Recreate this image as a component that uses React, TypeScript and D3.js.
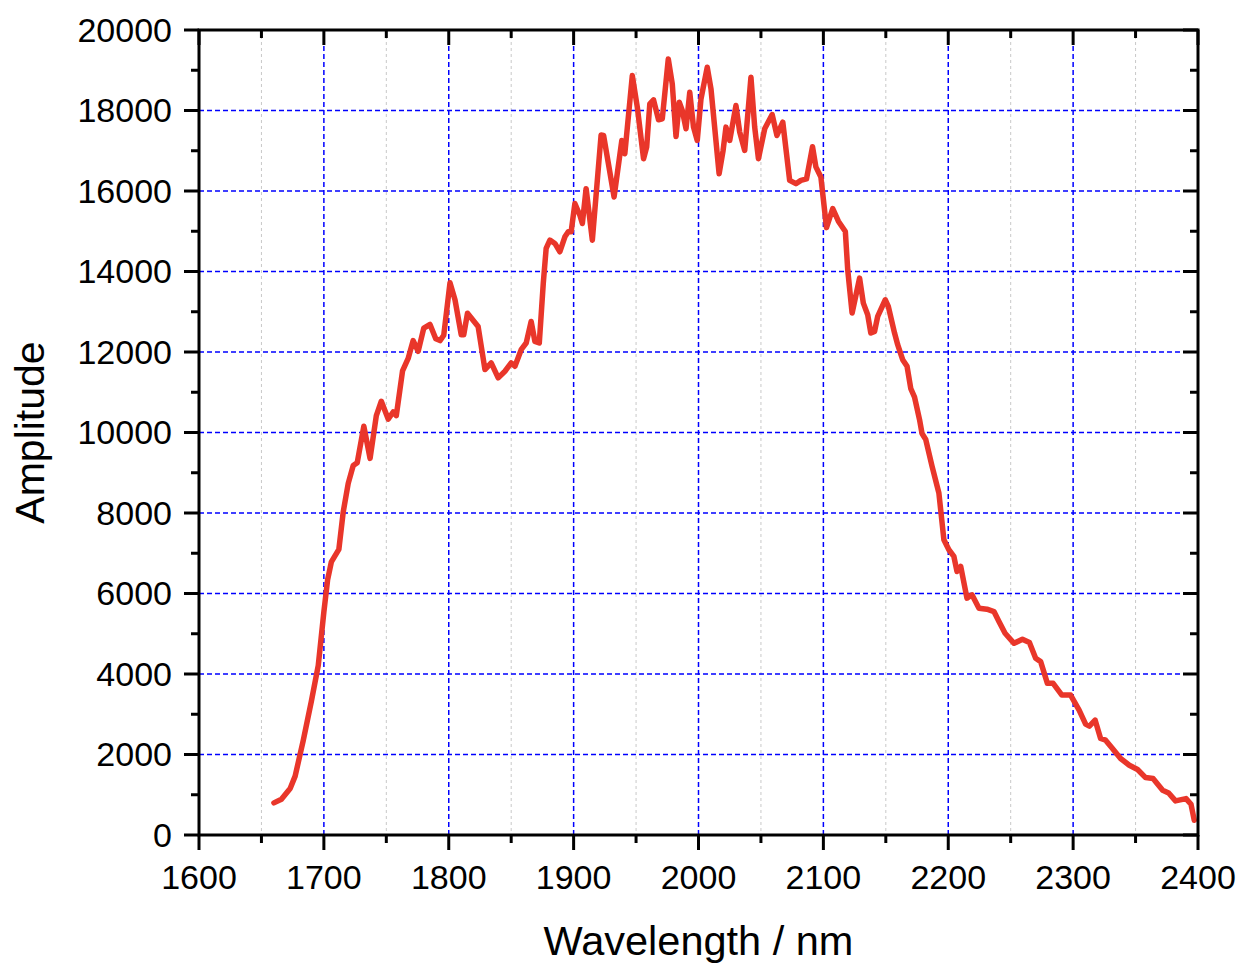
import React from "react";
import * as d3 from "d3";

const wavelengths = [
  1660, 1666, 1673, 1677, 1683.5, 1690, 1695.5, 1700, 1703, 1706, 1712, 1715.5, 1719.5, 1723.5, 1726.7,
  1732, 1737, 1742, 1746, 1751.5, 1755.5, 1758, 1763, 1767.5, 1771.5, 1775.5, 1780, 1785, 1789.6, 1793,
  1796, 1801, 1805, 1810, 1812, 1815, 1823.5, 1829, 1834, 1839.6, 1845, 1850, 1853, 1858, 1862, 1866,
  1869, 1872.5, 1875.7, 1878, 1881, 1885, 1889, 1893, 1895.7, 1898, 1901, 1905, 1907, 1910, 1915, 1922,
  1924, 1932.4, 1938.6, 1941, 1947, 1951, 1956, 1958.5, 1961, 1964, 1968, 1971, 1975.8, 1979, 1982,
  1984.6, 1987, 1990, 1993, 1996, 1999, 2002, 2007, 2010, 2016.5, 2019.7, 2022, 2025, 2030, 2033, 2037,
  2042, 2045, 2048, 2053, 2059, 2062.8, 2067.5, 2073, 2078, 2082, 2086.5, 2091.3, 2094, 2098, 2102.5,
  2107.5, 2112, 2117.6, 2119.5, 2123, 2129, 2132, 2135.5, 2138, 2141, 2143.5, 2149.6, 2152, 2157, 2159.5,
  2163.5, 2167, 2170, 2173, 2177, 2179, 2182, 2187, 2192.5, 2196.5, 2200.5, 2204.5, 2207, 2210, 2215,
  2219, 2224.6, 2231, 2236.6, 2240.6, 2245.5, 2252.7, 2259.4, 2265, 2270, 2274, 2279.4, 2284, 2291, 2298,
  2304.8, 2310, 2313, 2317.6, 2322, 2326, 2331.5, 2338, 2345, 2351.6, 2358, 2364, 2371.7, 2376.5, 2382,
  2390.4, 2394.4, 2397,
];

const amplitudes = [
  798, 887, 1153, 1463, 2350, 3326, 4213, 5543, 6341, 6785, 7095, 8027, 8736, 9180, 9250,
  10155, 9357, 10421, 10776, 10333, 10510, 10420, 11530, 11840, 12284, 12018, 12594, 12683, 12328, 12284,
  12417, 13720, 13300, 12429, 12429, 12965, 12635, 11563, 11728, 11357, 11522, 11728, 11645, 12058, 12223, 12759,
  12264, 12223, 13707, 14573, 14779, 14697, 14491, 14862, 14986, 14986, 15687, 15398, 15192, 16058, 14779, 17390,
  17380, 15851, 17256, 16926, 18868, 18083, 16802, 17091, 18165, 18264, 17769, 17793, 19281, 18661, 17355,
  18207, 18000, 17545, 18455, 17587, 17256, 18289, 19074, 18537, 16430, 17008, 17587, 17256, 18124, 17463, 17008,
  18826, 17587, 16802, 17545, 17900, 17380, 17710, 16264, 16182, 16264, 16300, 17100, 16600, 16350, 15090,
  15565, 15250, 14992, 14041, 12967, 13835, 13215, 12926, 12471, 12512, 12884, 13298, 13132, 12471, 12182,
  11810, 11645, 11090, 10880, 10322, 9975, 9826, 9162, 8498, 7336, 7087, 6921, 6548, 6672, 5884,
  5967, 5635, 5610, 5552, 5303, 5012, 4763, 4863, 4780, 4390, 4307, 3768, 3768, 3477, 3477,
  3104, 2755, 2705, 2855, 2398, 2357, 2149, 1900, 1734, 1627, 1427, 1402, 1112, 1045, 847,
  905, 763, 365,
];

const xMajorTicks = [1600, 1700, 1800, 1900, 2000, 2100, 2200, 2300, 2400];
const xMinorTicks = [1650, 1750, 1850, 1950, 2050, 2150, 2250, 2350];
const yMajorTicks = [0, 2000, 4000, 6000, 8000, 10000, 12000, 14000, 16000, 18000, 20000];
const yMinorTicks = [1000, 3000, 5000, 7000, 9000, 11000, 13000, 15000, 17000, 19000];

const xTitle = "Wavelength / nm";
const yTitle = "Amplitude";

export default function App() {
  const W = 1243;
  const H = 965;
  const left = 199;
  const right = 1198;
  const top = 30;
  const bottom = 835;

  const x = d3.scaleLinear().domain([1600, 2400]).range([left, right]);
  const y = d3.scaleLinear().domain([0, 20000]).range([bottom, top]);

  const pts = wavelengths.map((w, i) => [w, amplitudes[i]] as [number, number]);
  const line = d3
    .line<[number, number]>()
    .x((d) => x(d[0]))
    .y((d) => y(d[1]))
    .curve(d3.curveLinear);

  const font = "'Liberation Sans', Arial, sans-serif";
  const major = 15;
  const minor = 8;
  const axisW = 3;

  return (
    <svg
      width={W}
      height={H}
      style={{ position: "absolute", left: 0, top: 0, background: "#fff" }}
      fontFamily={font}
    >
      <rect x={0} y={0} width={W} height={H} fill="#fff" />
      {xMinorTicks.map((t) => (
        <line
          key={"gm" + t}
          x1={x(t)}
          x2={x(t)}
          y1={top}
          y2={bottom}
          stroke="#c8c8c8"
          strokeWidth={1}
          strokeDasharray="3,3"
        />
      ))}
      {xMajorTicks
        .filter((t) => t !== 1600 && t !== 2400)
        .map((t) => (
          <line
            key={"gx" + t}
            x1={x(t)}
            x2={x(t)}
            y1={top}
            y2={bottom}
            stroke="#0000ff"
            strokeWidth={1.5}
            strokeDasharray="5,3"
          />
        ))}
      {yMajorTicks
        .filter((t) => t !== 0 && t !== 20000)
        .map((t) => (
          <line
            key={"gy" + t}
            x1={left}
            x2={right}
            y1={y(t)}
            y2={y(t)}
            stroke="#0000ff"
            strokeWidth={1.5}
            strokeDasharray="5,3"
          />
        ))}

      <path
        d={line(pts) || ""}
        fill="none"
        stroke="#e9362a"
        strokeWidth={5.5}
        strokeLinejoin="round"
        strokeLinecap="round"
      />

      <rect
        x={left}
        y={top}
        width={right - left}
        height={bottom - top}
        fill="none"
        stroke="#000"
        strokeWidth={axisW}
      />

      {xMajorTicks.map((t) => (
        <line key={"bx" + t} x1={x(t)} x2={x(t)} y1={bottom} y2={bottom + major} stroke="#000" strokeWidth={axisW} />
      ))}
      {xMinorTicks.map((t) => (
        <line key={"bxm" + t} x1={x(t)} x2={x(t)} y1={bottom} y2={bottom + minor} stroke="#000" strokeWidth={axisW} />
      ))}
      {xMajorTicks.map((t) => (
        <line key={"tx" + t} x1={x(t)} x2={x(t)} y1={top} y2={top + major} stroke="#000" strokeWidth={axisW} />
      ))}
      {xMinorTicks.map((t) => (
        <line key={"txm" + t} x1={x(t)} x2={x(t)} y1={top} y2={top + minor} stroke="#000" strokeWidth={axisW} />
      ))}
      {yMajorTicks.map((t) => (
        <line key={"ly" + t} x1={left - major} x2={left} y1={y(t)} y2={y(t)} stroke="#000" strokeWidth={axisW} />
      ))}
      {yMinorTicks.map((t) => (
        <line key={"lym" + t} x1={left - minor} x2={left} y1={y(t)} y2={y(t)} stroke="#000" strokeWidth={axisW} />
      ))}
      {yMajorTicks.map((t) => (
        <line key={"ry" + t} x1={right - major} x2={right} y1={y(t)} y2={y(t)} stroke="#000" strokeWidth={axisW} />
      ))}
      {yMinorTicks.map((t) => (
        <line key={"rym" + t} x1={right - minor} x2={right} y1={y(t)} y2={y(t)} stroke="#000" strokeWidth={axisW} />
      ))}

      {xMajorTicks.map((t) => (
        <text key={"xl" + t} x={x(t)} y={889} textAnchor="middle" fontSize={34} fill="#000">
          {t}
        </text>
      ))}
      {yMajorTicks.map((t) => (
        <text
          key={"yl" + t}
          x={172}
          y={y(t)}
          dy="0.35em"
          textAnchor="end"
          fontSize={34}
          fill="#000"
        >
          {t}
        </text>
      ))}

      <text x={(left + right) / 2} y={955} textAnchor="middle" fontSize={41.5} fill="#000">
        {xTitle}
      </text>
      <text
        transform={`translate(44, ${(top + bottom) / 2}) rotate(-90)`}
        textAnchor="middle"
        fontSize={41}
        fill="#000"
      >
        {yTitle}
      </text>
    </svg>
  );
}
